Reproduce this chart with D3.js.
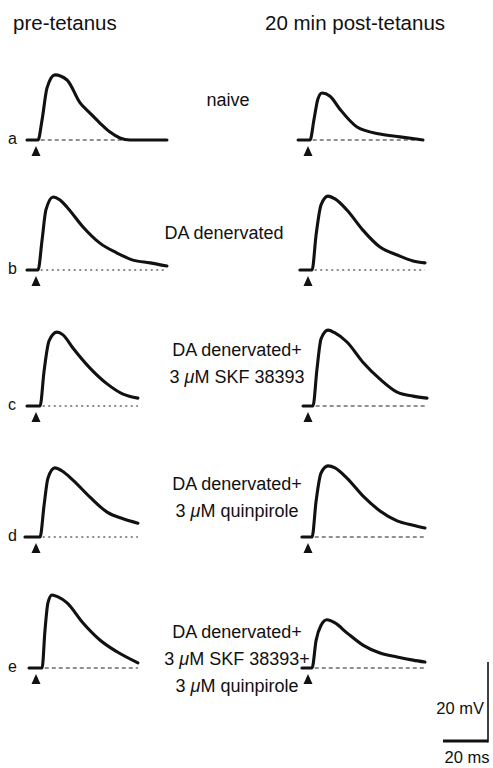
<!DOCTYPE html>
<html>
<head>
<meta charset="utf-8">
<script src="https://cdn.jsdelivr.net/npm/d3@7"></script>
<style>
  body { margin: 0; background: #fff; }
  text { font-family: "Liberation Sans", Arial, sans-serif; fill: #111; }
  .trace { fill: none; stroke: #111; stroke-width: 3.1; stroke-linejoin: round; stroke-linecap: round; }
</style>
</head>
<body>
<svg id="fig"></svg>
<script>
// column headers and row conditions
var headers = ["pre-tetanus", "20 min post-tetanus"];
var rowLabels = ["a", "b", "c", "d", "e"];
var conditions = [
  ["naive"],
  ["DA denervated"],
  ["DA denervated+", "3 \u03bcM SKF 38393"],
  ["DA denervated+", "3 \u03bcM quinpirole"],
  ["DA denervated+", "3 \u03bcM SKF 38393+", "3 \u03bcM quinpirole"]
];

// traces: time (ms, stimulus at 0) and voltage (mV above baseline)
var preT = [
  [-4, 0.9, 2.7, 4.9, 8.4, 13.8, 19.6, 24, 28.4, 32.9, 37.3, 41.8, 58.2],
  [-4, 0.9, 2.7, 4.4, 7.6, 10.7, 13.8, 20.9, 28.4, 36, 43.1, 50.7, 58.2],
  [-4, 1.8, 3.6, 5.8, 9.3, 12, 16.4, 24, 31.6, 38.7, 45.3],
  [-4.9, 1.8, 3.6, 5.3, 8.4, 11.6, 16.4, 24, 31.6, 38.7, 45.3],
  [-3.1, 2.7, 4, 5.3, 7.1, 9.8, 13.8, 20.9, 28.4, 36, 45.3]
];
var preV = [
  [0, 0, 5.1, 13.2, 16.5, 15.2, 9.4, 6.8, 4.3, 2, 0.5, 0, 0],
  [0, 0, 7.6, 15.2, 18.5, 17.7, 15.9, 10.9, 6.8, 4.3, 2.5, 1.8, 1],
  [0, 0, 8.9, 16.5, 18.7, 18, 14.7, 9.6, 5.6, 3, 2],
  [0, 0, 8.1, 14.9, 17.5, 16.7, 14.4, 10.1, 6.3, 4.6, 3.5],
  [0, 0, 9.6, 16.5, 18.5, 18, 16.5, 11.4, 7.1, 4.1, 1.3]
];
var postT = [
  [-4.4, 0.9, 2.7, 4.4, 6.2, 9.8, 14.2, 21.8, 32, 40.9, 51.1],
  [-3.6, 1.8, 3.6, 5.8, 8.9, 12, 17.3, 24.4, 32, 39.6, 46.7, 52],
  [-2.2, 2.2, 4, 5.8, 8.9, 12, 17.3, 24.4, 32, 39.6, 46.7, 52.9],
  [-2.7, 1.8, 3.6, 5.8, 8.9, 12, 17.3, 24.4, 32, 39.6, 46.7, 52],
  [-2.7, 1.8, 3.6, 5.8, 8.4, 12, 17.3, 24.4, 32, 39.6, 46.7, 52]
];
var postV = [
  [0, 0, 5.3, 10.4, 11.9, 11.1, 7.8, 3.3, 1.5, 0.8, 0],
  [0, 0, 8.9, 16.5, 18.7, 18, 15.2, 10.1, 5.8, 3.8, 2.3, 1.8],
  [0, 0, 9.4, 17, 19.2, 18.5, 16.2, 11.1, 6.8, 3.5, 2.5, 2],
  [0, 0, 9.1, 16.2, 18, 17.5, 14.9, 10.4, 6.6, 4.1, 3, 2.3],
  [0, 0, 7, 10.8, 12.2, 11.4, 8.9, 5.8, 3.8, 2.8, 2, 1.5]
];
// baseline style: true = dotted grey, false = dashed black
var preDotted = [false, true, true, true, false];
var postDotted = [false, true, false, false, false];

// scale bar values
var barMv = 20, barMs = 20;

// layout
var W = 493, H = 768;
var pxPerMs = 45 / 20, pxPerMv = 79 / 20;
var colX = [36, 308];
var rowBase = [140, 270, 406, 537, 668];
var condX = [228, 224, 237, 237, 237];
var condY = [106, 239, 356, 490, 638];

var svg = d3.select("#fig").attr("width", W).attr("height", H);

function scalesFor(x0, base) {
  return {
    x: d3.scaleLinear().domain([0, barMs]).range([x0, x0 + barMs * pxPerMs]),
    y: d3.scaleLinear().domain([0, barMv]).range([base, base - barMv * pxPerMv])
  };
}

function drawPanel(g, t, v, dotted, x0, base) {
  var s = scalesFor(x0, base);
  var pts = t.map(function(d, i) { return [d, v[i]]; });

  // baseline
  g.append("line")
    .attr("x1", s.x(t[1] + 1.2)).attr("x2", s.x(t[t.length - 1]))
    .attr("y1", s.y(0)).attr("y2", s.y(0))
    .attr("stroke", dotted ? "#666" : "#222")
    .attr("stroke-width", dotted ? 1.6 : 1.1)
    .attr("stroke-dasharray", dotted ? "2,3.5" : "4,3");

  var line = d3.line()
    .x(function(d) { return s.x(d[0]); })
    .y(function(d) { return s.y(d[1]); })
    .curve(d3.curveMonotoneX);

  g.append("path").attr("class", "trace").attr("d", line(pts));

  // stimulus arrow
  var ax = s.x(0), ay = s.y(0) + 6;
  g.append("path")
    .attr("d", "M" + ax + "," + ay + "L" + (ax + 4.5) + "," + (ay + 10) + "L" + (ax - 4.5) + "," + (ay + 10) + "Z")
    .attr("fill", "#111");
}

rowLabels.forEach(function(lab, i) {
  var g = svg.append("g").attr("class", "row");
  drawPanel(g, preT[i], preV[i], preDotted[i], colX[0], rowBase[i]);
  drawPanel(g, postT[i], postV[i], postDotted[i], colX[1], rowBase[i]);

  g.append("text")
    .attr("x", 8).attr("y", rowBase[i] + 4)
    .attr("font-size", 16)
    .text(lab);

  var txt = g.append("text")
    .attr("text-anchor", "middle")
    .attr("font-size", 18);
  conditions[i].forEach(function(str, j) {
    var ts = txt.append("tspan")
      .attr("x", condX[i]).attr("y", condY[i] + j * 27);
    var k = str.indexOf("\u03bc");
    if (k < 0) {
      ts.text(str);
    } else {
      ts.append("tspan").text(str.slice(0, k));
      ts.append("tspan").attr("font-style", "italic").text("\u03bc");
      ts.append("tspan").text(str.slice(k + 1));
    }
  });
});

// column headers
svg.append("text").attr("x", 13).attr("y", 30).attr("font-size", 20.5).text(headers[0]);
svg.append("text").attr("x", 265).attr("y", 30).attr("font-size", 20.5).text(headers[1]);

// scale bar
var sb = scalesFor(443, 741);
svg.append("line")
  .attr("x1", sb.x(0)).attr("x2", sb.x(barMs))
  .attr("y1", sb.y(0)).attr("y2", sb.y(0))
  .attr("stroke", "#111").attr("stroke-width", 3);
svg.append("line")
  .attr("x1", sb.x(barMs)).attr("x2", sb.x(barMs))
  .attr("y1", sb.y(0) + 1.5).attr("y2", sb.y(barMv))
  .attr("stroke", "#111").attr("stroke-width", 1.6);
svg.append("text").attr("x", 484).attr("y", 714).attr("text-anchor", "end")
  .attr("font-size", 16.5).text(barMv + " mV");
svg.append("text").attr("x", 467).attr("y", 763).attr("text-anchor", "middle")
  .attr("font-size", 16.5).text(barMs + " ms");
</script>
</body>
</html>
